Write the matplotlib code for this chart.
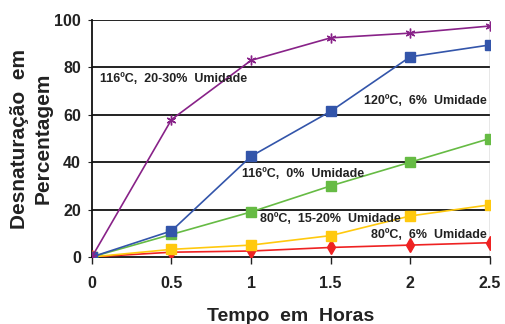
import matplotlib
matplotlib.use("Agg")
import matplotlib.pyplot as plt

hours = [0, 0.5, 1, 1.5, 2, 2.5]
s116_2030 = [0, 58, 83, 92.5, 94.5, 97.5]
s120_6 = [0, 11, 42.5, 61.5, 84.5, 89.5]
s116_0 = [0, 9.5, 19, 30, 40, 50]
s80_1520 = [0, 3.2, 5, 9, 17.3, 22]
s80_6 = [0, 2, 2.5, 4, 5, 6]
y_ticks = [0, 20, 40, 60, 80, 100]
x_ticks = [0, 0.5, 1, 1.5, 2, 2.5]
x_labels = ["0", "0.5", "1", "1.5", "2", "2.5"]

plt.rcParams['font.family'] = ['Liberation Sans', 'DejaVu Sans']
fig = plt.figure(figsize=(5.05, 3.24), dpi=100)
ax = fig.add_axes([0.182, 0.207, 0.788, 0.731])

for y in y_ticks[1:]:
    ax.axhline(y, color='#111111', lw=1.3, zorder=1)
ax.axvline(2.5, color='#888888', lw=1.0, zorder=1)

ax.plot(hours, s80_6, color='#ee2222', lw=1.2, marker='d', ms=7, zorder=3)
ax.plot(hours, s80_1520, color='#ffc90e', lw=1.2, marker='s', ms=7, zorder=3)
ax.plot(hours, s116_0, color='#66bb44', lw=1.2, marker='s', ms=7, zorder=3)
ax.plot(hours, s120_6, color='#3355aa', lw=1.2, marker='s', ms=7, zorder=4)
ax.plot(hours, s116_2030, color='#882288', lw=1.2, marker=(6, 2, 0), ms=7, mew=1.0, zorder=5)

ax.set_xlim(0, 2.5)
ax.set_ylim(0, 100)
ax.set_xticks(x_ticks)
ax.set_xticklabels(x_labels)
ax.set_yticks(y_ticks)
for s in ['top', 'right']:
    ax.spines[s].set_visible(False)
ax.spines['left'].set_color('#111111')
ax.spines['bottom'].set_color('#111111')
ax.spines['left'].set_linewidth(1.3)
ax.spines['bottom'].set_linewidth(1.3)
ax.tick_params(axis='x', direction='out', length=5, width=1.0, pad=9, labelsize=11.5, colors='#222222')
ax.tick_params(axis='y', direction='out', length=3, width=0.8, pad=5, labelsize=11.5, colors='#222222')
for lab in ax.get_xticklabels() + ax.get_yticklabels():
    lab.set_fontweight('bold')

ax.set_xlabel("Tempo  em  Horas", fontsize=14, fontweight='bold', color='#222222', labelpad=12)
ax.set_ylabel("Desnaturação  em\nPercentagem", fontsize=15, fontweight='bold', color='#222222', labelpad=1, linespacing=1.3)

tk = dict(fontsize=9, fontweight='bold', color='#222222', zorder=6)
ax.text(0.05, 75, "116ºC,  20-30%  Umidade", ha='left', va='center', **tk)
ax.text(2.48, 66, "120ºC,  6%  Umidade", ha='right', va='center', **tk)
ax.text(0.94, 35, "116ºC,  0%  Umidade", ha='left', va='center', **tk)
ax.text(1.055, 16, "80ºC,  15-20%  Umidade", ha='left', va='center', **tk)
ax.text(2.48, 9.3, "80ºC,  6%  Umidade", ha='right', va='center', **tk)

fig.savefig("out.png", dpi=100)
